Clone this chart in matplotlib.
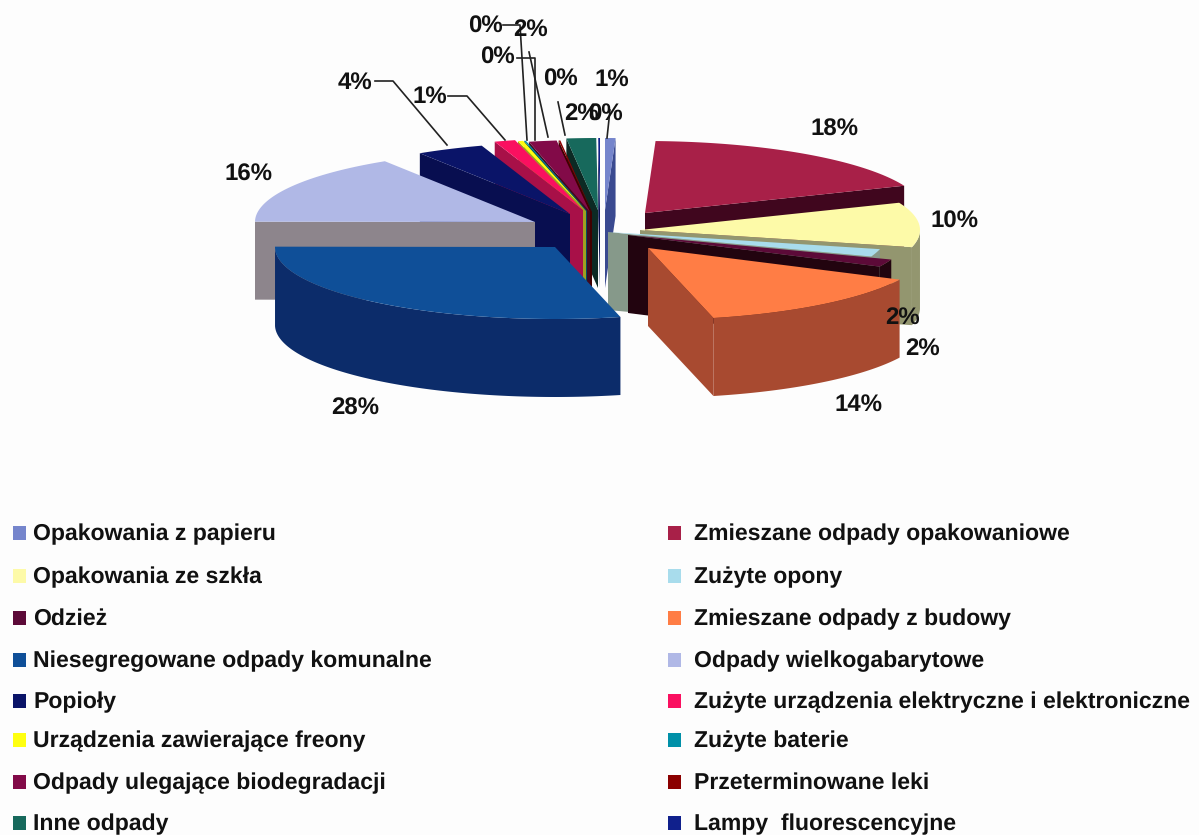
import numpy as np
import matplotlib
matplotlib.use("Agg")
import matplotlib.pyplot as plt
from matplotlib.patches import Polygon, Rectangle

plt.rcParams["text.hinting"] = "no_hinting"
plt.rcParams["text.hinting_factor"] = 1

categories = ["Opakowania z papieru", "Zmieszane odpady opakowaniowe", "Opakowania ze szkła",
              "Zużyte opony", "Odzież", "Zmieszane odpady z budowy",
              "Niesegregowane odpady komunalne", "Odpady wielkogabarytowe", "Popioły",
              "Zużyte urządzenia elektryczne i elektroniczne", "Urządzenia zawierające freony",
              "Zużyte baterie", "Odpady ulegające biodegradacji", "Przeterminowane leki",
              "Inne odpady", "Lampy  fluorescencyjne"]
values = [0.6, 18.2, 10.0, 1.7, 1.7, 14.0, 28.8, 15.9, 3.9, 1.2, 0.3, 0.1, 1.6, 0.1, 1.7, 0.1]
labels = ["1%", "18%", "10%", "2%", "2%", "14%", "28%", "16%", "4%", "1%", "0%", "0%", "2%", "0%", "2%", "0%"]

top_colors = ["#7585cc", "#a82048", "#fdfaa8", "#a8dcec", "#5c0a38", "#ff7d45", "#0f4f98", "#b0b8e6",
              "#0a1468", "#fa1060", "#ffff10", "#0090a8", "#820a48", "#8b0000", "#17695c", "#10208c"]
side_colors = ["#3a4a90", "#40061e", "#93966f", "#86998a", "#22040f", "#a84a30", "#0c2c6a", "#8d858c",
               "#080e50", "#a81048", "#a0a020", "#005060", "#400a20", "#400000", "#0c2a24", "#081050"]
legend_colors = top_colors
# slice apex on the canvas (explosion of each slice)
apex = [(605, 210), (645, 213), (640, 230), (608, 232), (628, 235), (648, 248), (555, 247), (535, 222),
        (570, 214), (583, 210), (586, 211), (587, 211), (590, 212), (592, 212), (598, 210), (600, 210)]
order = [15, 14, 13, 12, 11, 10, 9, 8, 0, 7, 1, 2, 3, 4, 6, 5]

RX, RY, DEPTH = 280, 72, 78
fig = plt.figure(figsize=(11.99, 8.35), dpi=100, facecolor="#fdfdfd")
ax = fig.add_axes([0, 0, 1, 1])
ax.set_xlim(0, 1199); ax.set_ylim(835, 0); ax.axis("off")

v = np.array(values); ends = np.cumsum(v) / v.sum() * 2 * np.pi
starts = np.r_[0, ends[:-1]]

def pt(c, t):
    return np.c_[c[0] + RX * np.sin(t), c[1] - RY * np.cos(t)]

for i in order:
    c, a, b = apex[i], starts[i], ends[i]
    t = np.linspace(a, b, max(4, int((b - a) * 60)))
    arc = pt(c, t)
    zc = 10 + 2 * order.index(i)
    drop = np.array([0, DEPTH])
    for th, test in ((a, np.sin(a) < 0), (b, np.sin(b) > 0)):
        if test:
            e = np.vstack([c, pt(c, np.array([th]))])
            ax.add_patch(Polygon(np.vstack([e, e[::-1] + drop]), fc=side_colors[i], ec="none", zorder=zc))
    f = t[np.cos(t) <= 0]
    if len(f) > 1:
        e = pt(c, f)
        ax.add_patch(Polygon(np.vstack([e, e[::-1] + drop]), fc=side_colors[i], ec="none", zorder=zc))
    ax.add_patch(Polygon(np.vstack([c, arc]), fc=top_colors[i], ec="none", zorder=zc + 1))

# data labels
label_pos = [(612, 80), (835, 130), (955, 222), (903, 318), (923, 349), (858, 405), (355, 409), (248, 175),
             (355, 83), (430, 97), (485, 27), (497, 58), (531, 30), (560, 80), (582, 114), (605, 115)]
lf = dict(family="Liberation Sans", fontweight="bold", fontsize=17.5, color="#111111",
          ha="center", va="center", zorder=80)
for s, (x, y) in zip(labels, label_pos):
    ax.text(x, y, s, **lf)

leaders = [[(375, 81), (393, 81), (447, 145)], [(448, 96), (467, 96), (505, 140)],
           [(503, 25), (520, 25), (527, 140)], [(517, 58), (535, 58), (535, 140)],
           [(529, 52), (548, 137)], [(558, 102), (565, 135)], [(610, 110), (607, 138)]]
for ln in leaders:
    xs, ys = zip(*ln)
    ax.plot(xs, ys, color="#222222", lw=1.2, zorder=70)

# legend
legend_y = [533, 576, 618, 660, 701, 740, 782, 823]
for k, name in enumerate(categories):
    row, col = k // 2, k % 2
    y = legend_y[row]
    x0 = 13 if col == 0 else 668
    ax.add_patch(Rectangle((x0, y - 7), 13, 14, fc=legend_colors[k], ec="none", zorder=60))
    ax.text(x0 + (20 if col == 0 else 26), y + 1, name, family="Liberation Sans", fontweight="bold",
            fontsize=16.6, color="#111111", ha="left", va="center", zorder=60)

fig.savefig("out.png", dpi=100, facecolor=fig.get_facecolor())
